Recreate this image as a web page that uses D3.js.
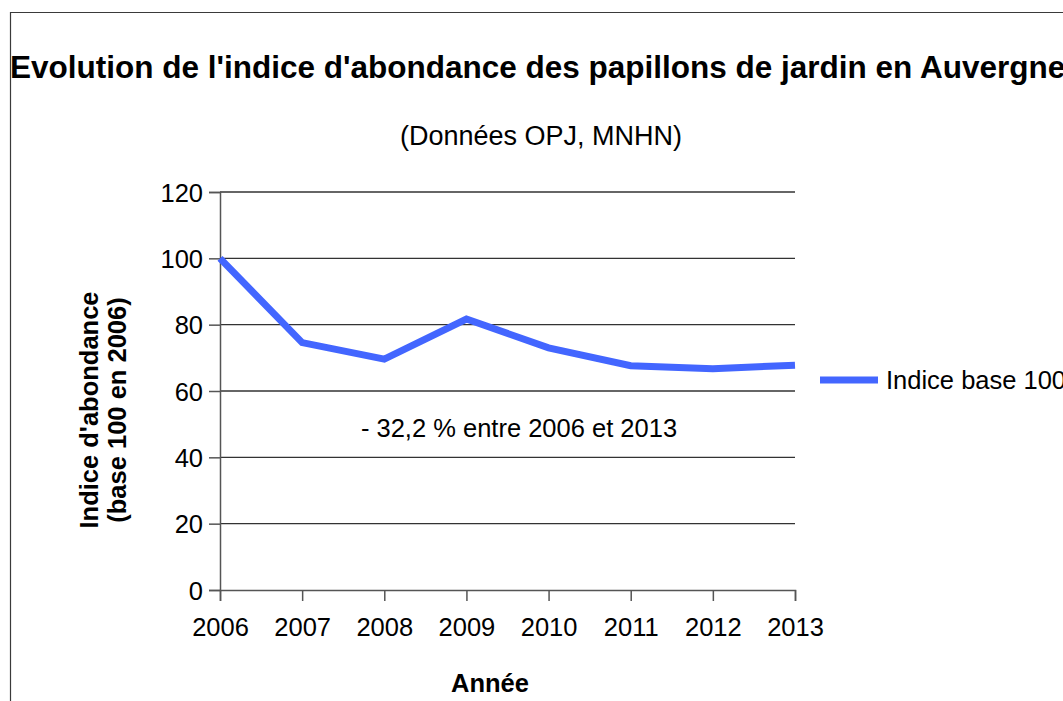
<!DOCTYPE html>
<html>
<head>
<meta charset="utf-8">
<script src="https://cdn.jsdelivr.net/npm/d3@7"></script>
<style>
  body { margin: 0; background: #fff; }
  svg { display: block; font-family: "Liberation Sans", Arial, sans-serif; }
</style>
</head>
<body>
<div id="chart"></div>
<script>
var years = [2006, 2007, 2008, 2009, 2010, 2011, 2012, 2013];
var indice = [100, 74.6, 69.6, 81.7, 73.0, 67.6, 66.7, 67.8];
var yTicks = [0, 20, 40, 60, 80, 100, 120];

var sWidth = 1063;
var sHeight = 701;

var marg = { top: 192, left: 220, right: 268, bottom: 111 };
var width = sWidth - marg.left - marg.right;
var height = sHeight - marg.top - marg.bottom;

var blue = '#4366ff';
var fs = '25.5px';

var svg = d3.select('#chart')
    .append('svg')
    .attr('width', sWidth)
    .attr('height', sHeight);

// frame (top + left)
svg.append('path')
    .attr('d', 'M10.5,701 V12.5 H1063')
    .attr('fill', 'none')
    .attr('stroke', '#3a3a3a')
    .attr('stroke-width', 1.2);

svg.append('text')
    .attr('x', 10)
    .attr('y', 78)
    .style('font-size', '31.5px')
    .style('font-weight', 'bold')
    .text("Evolution de l'indice d'abondance des papillons de jardin en Auvergne");

svg.append('text')
    .attr('x', 541)
    .attr('y', 145)
    .attr('text-anchor', 'middle')
    .style('font-size', '27px')
    .text('(Données OPJ, MNHN)');

var chartsGroup = svg.append('g')
    .attr('transform', `translate(${marg.left}, ${marg.top})`);

var xLinearScale = d3.scaleLinear()
    .domain([d3.min(years), d3.max(years)])
    .range([0, width]);

var yLinearScale = d3.scaleLinear()
    .domain([0, 120])
    .range([height, 0]);

// gridlines
chartsGroup.append('g')
    .selectAll('line')
    .data(yTicks.filter(d => d > 0))
    .enter()
    .append('line')
    .attr('x1', 0)
    .attr('x2', width)
    .attr('y1', d => yLinearScale(d))
    .attr('y2', d => yLinearScale(d))
    .attr('stroke', '#333')
    .attr('stroke-width', 1.3);

var leftAxis = d3.axisLeft(yLinearScale)
    .tickValues(yTicks)
    .tickSize(11)
    .tickPadding(6);

var bottomAxis = d3.axisBottom(xLinearScale)
    .tickValues(years)
    .tickFormat(d3.format('d'))
    .tickSize(11)
    .tickPadding(17);

var yAxis = chartsGroup.append('g')
    .call(leftAxis);

var xAxis = chartsGroup.append('g')
    .attr('transform', `translate(0, ${height})`)
    .call(bottomAxis);

[xAxis, yAxis].forEach(function(ax) {
    ax.select('.domain').attr('stroke', '#555').attr('stroke-width', 1.5);
    ax.selectAll('.tick line').attr('stroke', '#555').attr('stroke-width', 1.5);
    ax.selectAll('.tick text')
        .attr('fill', '#000')
        .style('font-size', fs)
        .style('font-family', '"Liberation Sans", Arial, sans-serif');
});
yAxis.selectAll('.tick text').attr('dy', '0.36em');

var line = d3.line()
    .x((d, i) => xLinearScale(years[i]))
    .y(d => yLinearScale(d));

chartsGroup.append('path')
    .datum(indice)
    .attr('d', line)
    .attr('fill', 'none')
    .attr('stroke', blue)
    .attr('stroke-width', 7)
    .attr('stroke-linejoin', 'miter');

// annotation
chartsGroup.append('text')
    .attr('x', xLinearScale(2009.64))
    .attr('y', yLinearScale(46.2))
    .attr('text-anchor', 'middle')
    .style('font-size', fs)
    .text('- 32,2 % entre 2006 et 2013');

// axis titles
svg.append('text')
    .attr('x', 490)
    .attr('y', 692)
    .attr('text-anchor', 'middle')
    .style('font-size', fs)
    .style('font-weight', 'bold')
    .text('Année');

var yTitle = svg.append('text')
    .attr('transform', 'translate(98, 410) rotate(-90)')
    .attr('text-anchor', 'middle')
    .style('font-size', fs)
    .style('font-weight', 'bold');
yTitle.append('tspan').attr('x', 0).attr('dy', 0).text("Indice d'abondance");
yTitle.append('tspan').attr('x', 0).attr('dy', 28).text('(base 100 en 2006)');

// legend
var legend = svg.append('g')
    .attr('transform', 'translate(820, 380)');
legend.append('line')
    .attr('x1', 0)
    .attr('x2', 58)
    .attr('stroke', blue)
    .attr('stroke-width', 7);
legend.append('text')
    .attr('x', 66)
    .attr('y', 9)
    .style('font-size', fs)
    .text('Indice base 100');
</script>
</body>
</html>
